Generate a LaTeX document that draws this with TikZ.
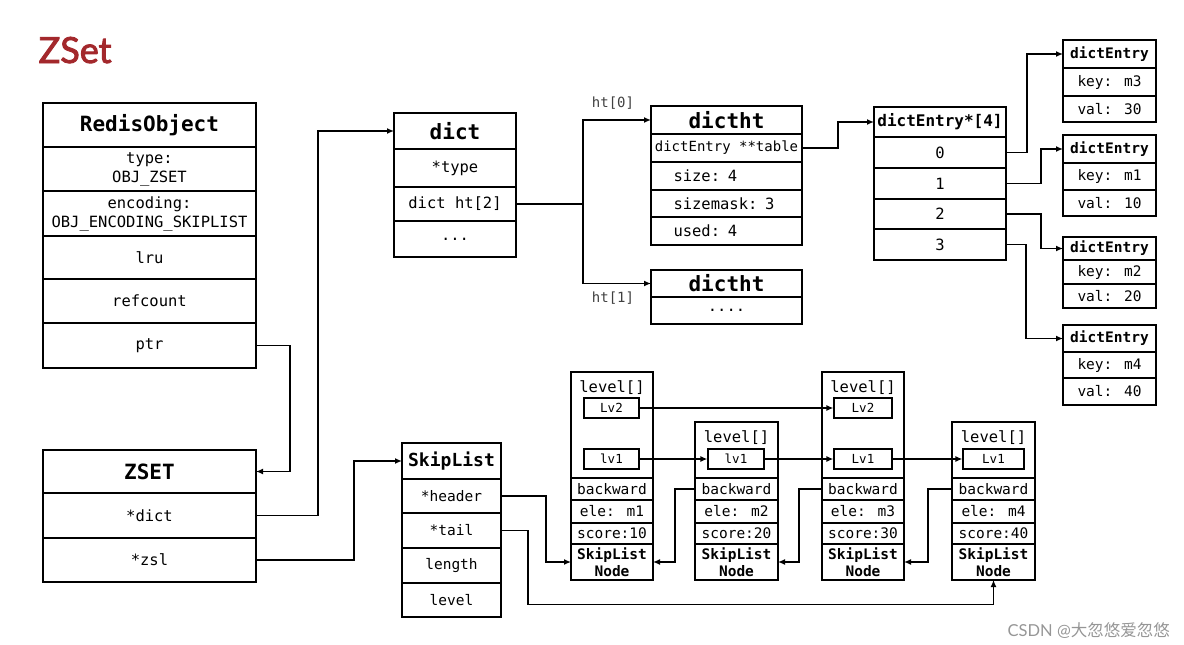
\documentclass[tikz,border=0pt]{standalone}
\usepackage{fontspec}
\setmainfont{DejaVu Sans Mono}
\newfontfamily\titlefont[AutoFakeBold=2.5]{Lato}
\newfontfamily\cjkfont{Noto Sans CJK SC}
\usetikzlibrary{arrows.meta}
\definecolor{zsetred}{RGB}{163,40,44}
\definecolor{markgray}{RGB}{150,150,150}

\begin{document}
\begin{tikzpicture}[x=1pt, y=-1pt, line width=1.3pt,
    row/.style={draw, inner sep=0pt, outer sep=0pt, anchor=north west, align=center,
      font=\fontsize{15.5}{19}\selectfont},
    head/.style={row, font=\fontsize{21}{25}\selectfont\bfseries},
    lrow/.style={row, align=left, text width=106, inner xsep=22.5},
    small/.style={row, font=\fontsize{14.5}{17}\selectfont},
    smallhead/.style={row, font=\fontsize{14.5}{17}\selectfont\bfseries},
    lvbox/.style={draw, inner sep=0pt, minimum height=20, font=\fontsize{12.5}{15}\selectfont},
    lvtext/.style={inner sep=0pt, font=\fontsize{15.5}{19}\selectfont},
    htlabel/.style={inner sep=0pt, text=black!75, font=\fontsize{14}{17}\selectfont},
    link/.style={-{Latex[length=7pt,width=6pt]}}]
  \useasboundingbox (0,0) rectangle (1184,645);

  \node[anchor=base west, inner sep=0pt, text=zsetred, font=\titlefont\fontsize{36}{40}\selectfont\bfseries] (title) at (38,63) {ZSet};

  % RedisObject
  \node[head, minimum width=213, minimum height=44] (ro) at (43,103) {RedisObject};
  \node[row, minimum width=213, minimum height=44] (rotype) at (43,147) {type:\\OBJ\_ZSET};
  \node[row, minimum width=213, minimum height=45] (roenc) at (43,191) {encoding:\\OBJ\_ENCODING\_SKIPLIST};
  \node[row, minimum width=213, minimum height=43] (rolru) at (43,236) {lru};
  \node[row, minimum width=213, minimum height=44] (roref) at (43,279) {refcount};
  \node[row, minimum width=213, minimum height=45] (roptr) at (43,323) {ptr};

  % ZSET
  \node[head, minimum width=213, minimum height=43] (zset) at (43,450) {ZSET};
  \node[row, minimum width=213, minimum height=45] (zdict) at (43,493) {*dict};
  \node[row, minimum width=213, minimum height=44] (zzsl) at (43,538) {*zsl};

  % dict
  \node[head, minimum width=122, minimum height=36] (dict) at (394,113) {dict};
  \node[row, minimum width=122, minimum height=38] (dtype) at (394,149) {*type};
  \node[row, minimum width=122, minimum height=34] (dht) at (394,187) {dict ht[2]};
  \node[row, minimum width=122, minimum height=36] (ddots) at (394,221) {...};

  % dictht
  \node[head, minimum width=151, minimum height=28] (ht0) at (651,106) {dictht};
  \node[row, minimum width=151, minimum height=28, font=\fontsize{14}{17}\selectfont] (ht0tab) at (651,134) {dictEntry **table};
  \node[lrow, minimum height=28] (ht0size) at (651,162) {size: 4};
  \node[lrow, minimum height=27] (ht0mask) at (651,190) {sizemask: 3};
  \node[lrow, minimum height=28] (ht0used) at (651,217) {used: 4};

  \node[head, minimum width=151, minimum height=27] (ht1) at (651,270) {dictht};
  \node[row, minimum width=151, minimum height=27] (ht1dots) at (651,297) {....};

  \node[htlabel] (lab0) at (613,103) {ht[0]};
  \node[htlabel] (lab1) at (613,298) {ht[1]};

  % table
  \node[row, minimum width=132, minimum height=30, font=\fontsize{16}{19}\selectfont\bfseries] (tab) at (874,107) {dictEntry*[4]};
  \node[row, minimum width=132, minimum height=31] (tab0) at (874,137) {0};
  \node[row, minimum width=132, minimum height=31] (tab1) at (874,168) {1};
  \node[row, minimum width=132, minimum height=30] (tab2) at (874,199) {2};
  \node[row, minimum width=132, minimum height=31] (tab3) at (874,229) {3};

  % dictEntry
  \node[smallhead, minimum width=93, minimum height=28] (e1) at (1063,40) {dictEntry};
  \node[small, minimum width=93, minimum height=28] (e1k) at (1063,68) {key: m3};
  \node[small, minimum width=93, minimum height=26] (e1v) at (1063,96) {val: 30};
  \node[smallhead, minimum width=93, minimum height=28] (e2) at (1063,135) {dictEntry};
  \node[small, minimum width=93, minimum height=27] (e2k) at (1063,163) {key: m1};
  \node[small, minimum width=93, minimum height=26] (e2v) at (1063,190) {val: 10};
  \node[smallhead, minimum width=93, minimum height=23] (e3) at (1063,237) {dictEntry};
  \node[small, minimum width=93, minimum height=24] (e3k) at (1063,260) {key: m2};
  \node[small, minimum width=93, minimum height=24] (e3v) at (1063,284) {val: 20};
  \node[smallhead, minimum width=93, minimum height=27] (e4) at (1063,325) {dictEntry};
  \node[small, minimum width=93, minimum height=26] (e4k) at (1063,352) {key: m4};
  \node[small, minimum width=93, minimum height=27] (e4v) at (1063,378) {val: 40};

  % SkipList
  \node[row, minimum width=99, minimum height=36, font=\fontsize{18}{21}\selectfont\bfseries] (sl) at (402,443) {SkipList};
  \node[small, minimum width=99, minimum height=34] (slhead) at (402,479) {*header};
  \node[small, minimum width=99, minimum height=35] (sltail) at (402,513) {*tail};
  \node[small, minimum width=99, minimum height=35] (sllen) at (402,548) {length};
  \node[small, minimum width=99, minimum height=34] (sllev) at (402,583) {level};

  % node 1
  \node[row, minimum width=82, minimum height=106] (n1lev) at (571,372) {};
  \node[lvtext] (n1t) at (612,388) {level[]};
  \node[lvbox, minimum width=55] (n1a) at (611.5,408) {Lv2};
  \node[lvbox, minimum width=55] (n1b) at (611.5,459) {lv1};
  \node[small, minimum width=82, minimum height=22] (n1back) at (571,478) {backward};
  \node[small, minimum width=82, minimum height=23] (n1ele) at (571,500) {ele: m1};
  \node[small, minimum width=82, minimum height=21] (n1score) at (571,523) {score:10};
  \node[smallhead, minimum width=82, minimum height=36] (n1node) at (571,544) {SkipList\\Node};

  % node 2
  \node[row, minimum width=83, minimum height=56] (n2lev) at (695,422) {};
  \node[lvtext] (n2t) at (736.5,438) {level[]};
  \node[lvbox, minimum width=56] (n2b) at (736,459) {lv1};
  \node[small, minimum width=83, minimum height=22] (n2back) at (695,478) {backward};
  \node[small, minimum width=83, minimum height=23] (n2ele) at (695,500) {ele: m2};
  \node[small, minimum width=83, minimum height=21] (n2score) at (695,523) {score:20};
  \node[smallhead, minimum width=83, minimum height=36] (n2node) at (695,544) {SkipList\\Node};

  % node 3
  \node[row, minimum width=82, minimum height=106] (n3lev) at (822,372) {};
  \node[lvtext] (n3t) at (863,388) {level[]};
  \node[lvbox, minimum width=58] (n3a) at (863,408) {Lv2};
  \node[lvbox, minimum width=58] (n3b) at (863,459) {Lv1};
  \node[small, minimum width=82, minimum height=22] (n3back) at (822,478) {backward};
  \node[small, minimum width=82, minimum height=23] (n3ele) at (822,500) {ele: m3};
  \node[small, minimum width=82, minimum height=21] (n3score) at (822,523) {score:30};
  \node[smallhead, minimum width=82, minimum height=36] (n3node) at (822,544) {SkipList\\Node};

  % node 4
  \node[row, minimum width=83, minimum height=56] (n4lev) at (952,422) {};
  \node[lvtext] (n4t) at (993.5,438) {level[]};
  \node[lvbox, minimum width=61] (n4b) at (993.5,459) {Lv1};
  \node[small, minimum width=83, minimum height=22] (n4back) at (952,478) {backward};
  \node[small, minimum width=83, minimum height=23] (n4ele) at (952,500) {ele: m4};
  \node[small, minimum width=83, minimum height=21] (n4score) at (952,523) {score:40};
  \node[smallhead, minimum width=83, minimum height=36] (n4node) at (952,544) {SkipList\\Node};

  \draw[link] (roptr.east) -- ++(34,0) |- (zset.east);
  \draw[link] (zdict.east) -- ++(62,0) |- (dict.west);
  \draw[link] (zzsl.east) -- ++(98,0) |- (sl.west);

  \draw (dht.east) -- ++(67,0) coordinate (split);
  \draw[link] (split) |- (ht0.west);
  \draw[link] (split) |- (ht1.west);

  \draw[link] (ht0tab.east) -- ++(36,0) |- (tab.west);

  \draw[link] (tab0.east) -- ++(21,0) |- (e1.west);
  \draw[link] (tab1.east) -- ++(35,0) |- (e2.west);
  \draw[link] (tab2.east) -- ++(35,0) |- (e3.west);
  \draw[link] (tab3.east) -- ++(20,0) |- (e4.west);

  \draw[link] (slhead.east) -- ++(45,0) |- (n1node.west);
  \draw[link] (sltail.east) -- ++(27,0) -- ++(0,74) -| (n4node.south);

  \draw[link] (n1a.east) -- (n3a.west);
  \draw[link] (n1b.east) -- (n2b.west);
  \draw[link] (n2b.east) -- (n3b.west);
  \draw[link] (n3b.east) -- (n4b.west);

  \draw[link] (n2back.west) -- ++(-20,0) |- (n1node.east);
  \draw[link] (n3back.west) -- ++(-23,0) |- (n2node.east);
  \draw[link] (n4back.west) -- ++(-24,0) |- (n3node.east);

  \node[anchor=base west, inner sep=0pt, text=markgray, font=\fontsize{16.5}{19}\selectfont] (mark) at (1007,636) {\titlefont CSDN @\cjkfont 大忽悠爱忽悠};
\end{tikzpicture}
\end{document}
